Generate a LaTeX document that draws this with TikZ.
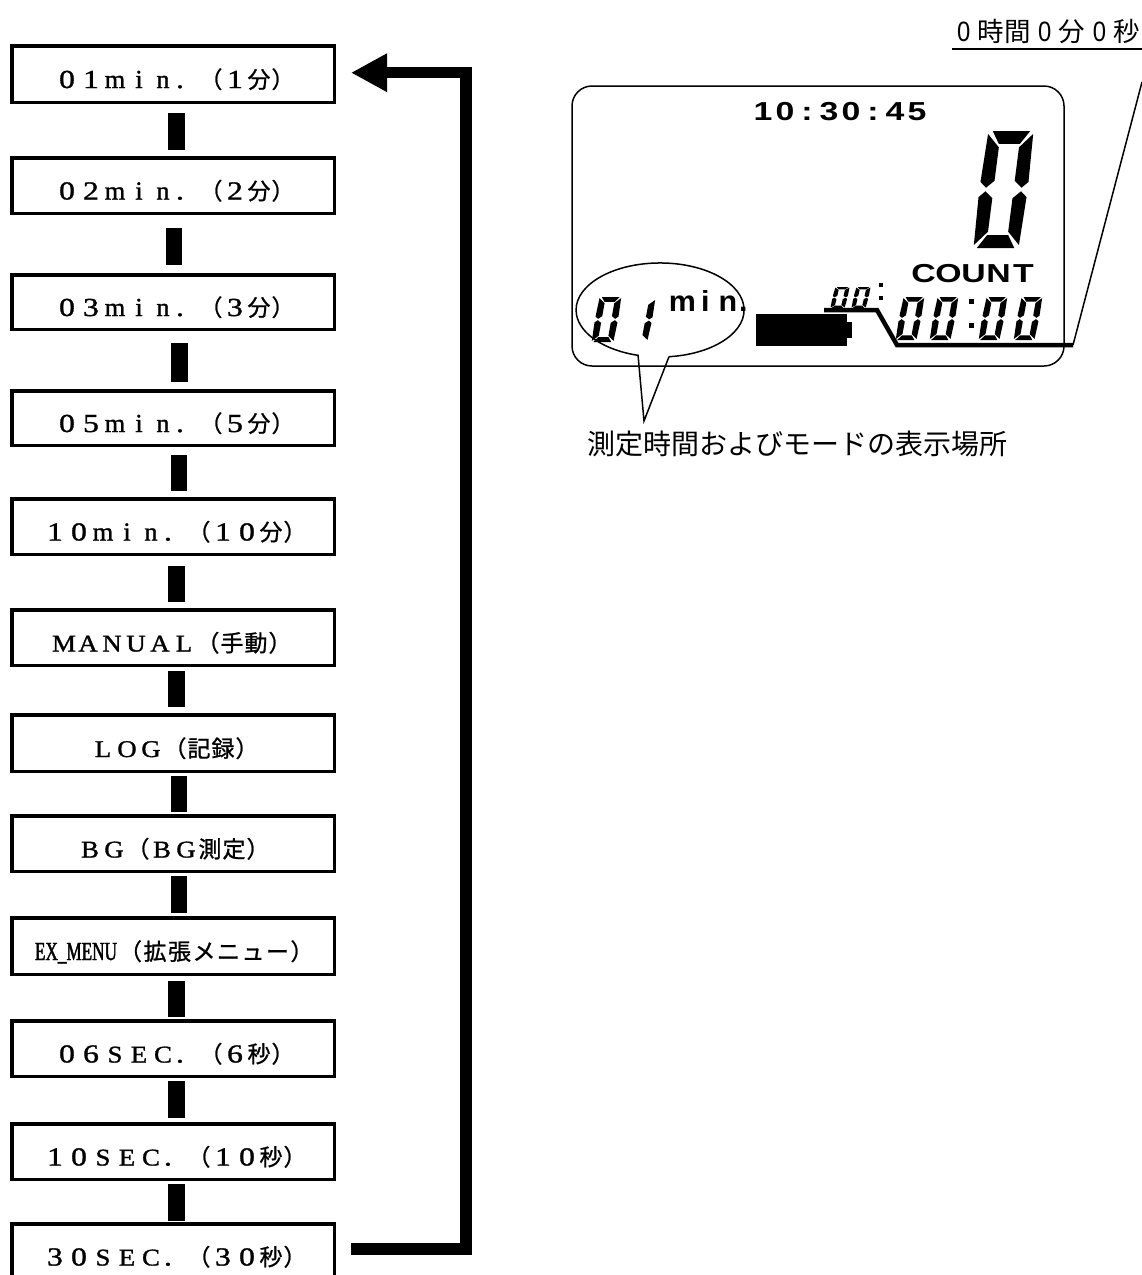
\documentclass[tikz,border=0pt]{standalone}
\usepackage{fontspec}
\usetikzlibrary{arrows.meta}
\setmainfont{Liberation Serif}
\newfontfamily\wideserif[FakeStretch=1.22,FakeBold=1.2]{Liberation Serif}
\newfontfamily\capserif[FakeStretch=1.12,FakeBold=1.2]{Liberation Serif}
\newfontfamily\lowserif[FakeStretch=1.02,FakeBold=1.2]{Liberation Serif}
\newfontfamily\narrowserif[FakeStretch=0.66,FakeBold=1.5]{Liberation Serif}
\newfontfamily\widesans[FakeStretch=1.3]{Liberation Sans}
\newfontfamily\condsans[FakeStretch=0.85]{Liberation Sans}
\newfontfamily\boldminsans[FakeStretch=1.05]{Liberation Sans}
\newfontfamily\cjkfont{Noto Sans CJK JP}
\newfontfamily\cjkboxfont[FakeBold=1]{Noto Sans CJK JP}
% full-width cells, 24 px pitch
\newcommand{\fw}[1]{{\wideserif\fontsize{26pt}{26pt}\selectfont\foreach \fwi in {#1}{\makebox[24pt]{\fwi}}}}
\newcommand{\fwc}[1]{{\capserif\fontsize{24pt}{24pt}\selectfont\foreach \fwi in {#1}{\makebox[24pt]{\fwi}}}}
\newcommand{\fwl}[1]{{\lowserif\fontsize{26pt}{26pt}\selectfont\foreach \fwi in {#1}{\makebox[24pt]{\fwi}}}}
\newcommand{\fwdot}{{\wideserif\fontsize{26pt}{26pt}\selectfont\makebox[24pt][l]{\hspace{1pt}.}}}
\newcommand{\cj}[1]{{\cjkboxfont\fontsize{23pt}{23pt}\selectfont\makebox[24pt]{#1}}}
% seven segment zero: origin at lower left, width, height, total slant
\newcommand{\segleft}{%
  \fill (0.03,1.95)--(0.29,1.72)--(0.29,1.15)--(0.13,1.03)--(0,1.13)--cycle;
  \fill (0.13,0.97)--(0.29,0.85)--(0.29,0.28)--(0.03,0.05)--(0,0.87)--cycle;}
\newcommand{\segright}{%
  \fill (0.97,1.95)--(0.71,1.72)--(0.71,1.15)--(0.87,1.03)--(1,1.13)--cycle;
  \fill (0.87,0.97)--(0.71,0.85)--(0.71,0.28)--(0.97,0.05)--(1,0.87)--cycle;}
\newcommand{\segzero}[5]{\begin{scope}[shift={(#1,#2)},x={(#3pt,0pt)},y={(#5/2*1pt,#4/2*1pt)}]
  \fill (0.12,2)--(0.9,2)--(0.72,1.78)--(0.28,1.78)--cycle;
  \fill (0.1,0)--(0.88,0)--(0.72,0.22)--(0.28,0.22)--cycle;
  \segleft\segright\end{scope}}
\newcommand{\segone}[5]{\begin{scope}[shift={(#1,#2)},x={(#3pt,0pt)},y={(#5/2*1pt,#4/2*1pt)}]
  \segright\end{scope}}
\tikzset{
  modebox/.style={draw=black,line width=3.5pt,rectangle,inner sep=0pt,fill=white},
  linkbar/.style={draw=black,line width=16.5pt},
  loopline/.style={draw=black,line width=11.5pt,miter limit=10},
  thinline/.style={draw=black,line width=1.5pt},
  plain/.style={inner sep=0pt,outer sep=0pt,anchor=base west},
}
\newcommand{\boxnode}[5]{\node[modebox,minimum height={(#3-#2-3.5)*1pt}] (#1) at (173,{(#2+#3)/2})
  {\raisebox{-14pt}[0pt][0pt]{\makebox[322.5pt][l]{\hspace*{\dimexpr #4pt-11.75pt\relax}#5}}};}
\begin{document}
\begin{tikzpicture}[x=1pt,y=-1pt]
\useasboundingbox (0,0) rectangle (1142,1275);
\clip (0,0) rectangle (1142,1275);
\fill[white] (0,0) rectangle (1142,1275);
% mode list
\boxnode{b1}{44}{104}{55}{\fw{0,1}\fwl{m,i,n}\fwdot\cj{（}\fw{1}\cj{分}\cj{）}}
\boxnode{b2}{156}{215}{55}{\fw{0,2}\fwl{m,i,n}\fwdot\cj{（}\fw{2}\cj{分}\cj{）}}
\boxnode{b3}{273}{331}{55}{\fw{0,3}\fwl{m,i,n}\fwdot\cj{（}\fw{3}\cj{分}\cj{）}}
\boxnode{b4}{389}{447}{55}{\fw{0,5}\fwl{m,i,n}\fwdot\cj{（}\fw{5}\cj{分}\cj{）}}
\boxnode{b5}{497}{556}{43}{\fw{1,0}\fwl{m,i,n}\fwdot\cj{（}\fw{1,0}\cj{分}\cj{）}}
\boxnode{b6}{608}{667}{52}{\fwc{M,A,N,U,A,L}\cj{（}\cj{手}\cj{動}\cj{）}}
\boxnode{b7}{713}{773}{91}{\fwc{L,O,G}\cj{（}\cj{記}\cj{録}\cj{）}}
\boxnode{b8}{814}{873}{78}{\fwc{B,G}\cj{（}\fwc{B,G}\cj{測}\cj{定}\cj{）}}
\boxnode{b9}{916}{976}{35}{{\narrowserif\fontsize{26pt}{26pt}\selectfont\makebox[83.5pt][l]{EX\_MENU}}\cj{（}\hspace{.5pt}\cj{拡}\hspace{.5pt}\cj{張}\hspace{.5pt}\cj{メ}\hspace{.5pt}\cj{ニ}\hspace{.5pt}\cj{ュ}\hspace{.5pt}\cj{ー}\hspace{.5pt}\cj{）}}
\boxnode{b10}{1019}{1078}{55}{\fw{0,6}\fwc{S,E,C}\fwdot\cj{（}\fw{6}\cj{秒}\cj{）}}
\boxnode{b11}{1122}{1181}{43}{\fw{1,0}\fwc{S,E,C}\fwdot\cj{（}\fw{1,0}\cj{秒}\cj{）}}
\boxnode{b12}{1222}{1281}{43}{\fw{3,0}\fwc{S,E,C}\fwdot\cj{（}\fw{3,0}\cj{秒}\cj{）}}
% links: from, to, x offset, gap below, gap above
\foreach \a/\b/\xs/\ga/\gb in {1/2/3.7/9/6,2/3/1/13/8,3/4/6.5/12/7,4/5/6/8/6,5/6/3.5/10/6,6/7/3.5/4/6,7/8/6/3/2,8/9/6/3/3,9/10/3.5/5/2,10/11/3.5/3/4,11/12/3.5/3/1}
  \draw[linkbar] ([xshift=\xs pt,yshift=-\ga pt]b\a.south) -- ([xshift=\xs pt,yshift=\gb pt]b\b.north);
% return arrow
\coordinate (rfrom) at ([xshift=15pt,yshift=2.5pt]b12.east);
\coordinate (rto) at ([xshift=15pt,yshift=1.3pt]b1.east);
\coordinate (rcorner) at (466,72.7);
\draw[loopline,-{Triangle[length=36pt,width=36pt]}] (rfrom) -| (rcorner) -- (rto);
% display
\draw[thinline,rounded corners=20pt] (572,86) rectangle (1064,366);
\node[plain] (clock) at (752,120) {\widesans\fontsize{26pt}{26pt}\selectfont\bfseries\foreach \fwi in {1,0,:,3,0,:,4,5}{\makebox[22pt]{\fwi}}};
\segzero{972}{248}{48}{117}{15}
\node[plain] (count) at (911,282) {\widesans\fontsize{26pt}{26pt}\selectfont\bfseries\foreach \fwi in {C,O,U,N,T}{\makebox[25pt]{\fwi}}};
% small time digits
\segzero{830}{308}{15}{21}{5}
\segzero{851}{308}{15}{21}{5}
\fill (879,283) rectangle (883,287);
\fill (879,296) rectangle (883,300);
% main time digits
\segzero{895}{340}{22}{43}{8}
\segzero{929}{340}{22}{43}{8}
\fill (968.5,299) rectangle (973.5,304);
\fill (968.5,323) rectangle (973.5,328);
\segzero{978}{340}{22}{43}{8}
\segzero{1013}{340}{22}{43}{8}
% battery
\fill (756,314) rectangle (847,346);
\fill (847,322) rectangle (852,338);
% pointer line under the time
\coordinate (pa) at (824,310);
\coordinate (pb) at (877,310);
\coordinate (pc) at (897,345);
\coordinate (pd) at (1073,345);
\coordinate (pe) at (1142,82);
\draw[line width=4.5pt,miter limit=10] (pa) -- (pb) -- (pc) -- (pd);
\draw[thinline] (pd) -- (pe);
% top label
\node[plain] (toplabel) at (957,41) {\condsans\fontsize{28pt}{28pt}\selectfont 0\hspace{7.5pt}{\cjkfont\fontsize{26.5pt}{26.5pt}\selectfont 時間}\hspace{7.5pt}0\hspace{7.5pt}{\cjkfont\fontsize{26.5pt}{26.5pt}\selectfont 分}\hspace{7.5pt}0\hspace{7.5pt}{\cjkfont\fontsize{26.5pt}{26.5pt}\selectfont 秒}};
\coordinate (ula) at (952,49);
\coordinate (ulb) at (1142,49);
\draw[thinline] (ula) -- (ulb);
% measurement callout
\segzero{591}{342}{23}{45}{8}
\segone{625}{341}{23}{42}{8}
\node[plain] (minlabel) at (671,311) {\boldminsans\fontsize{29pt}{29pt}\selectfont\bfseries\makebox[23pt]{m}\makebox[23pt]{i}\makebox[22pt]{n}\makebox[0pt][l]{.}};
\coordinate (cb) at (669,356.7);
\coordinate (ct) at (644,421);
\draw[thinline] (cb) arc[start angle=-83.9,end angle=254.8,x radius=84pt,y radius=47pt] -- (ct) -- (cb);
\node[plain] (measlabel) at (587,454) {\cjkfont\fontsize{28pt}{28pt}\selectfont 測定時間およびモードの表示場所};
\end{tikzpicture}
\end{document}
